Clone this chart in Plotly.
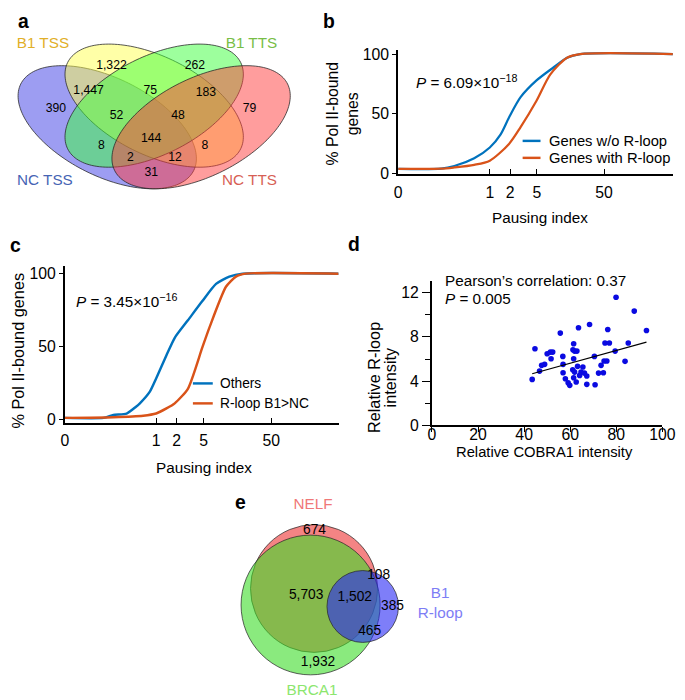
import numpy as np
import plotly.graph_objects as go

# Layout is designed in reference-picture pixels (685 x 700).  The captured page is
# slightly larger than the window, so page pixels are reference pixels times S.
S = 1 / 0.982
OFF = 8        # default body margin
YSHIFT = 4     # small vertical correction of the capture
W = int(685 * S) - OFF - 1
H = int(700 * S) - OFF - 1
FONT = "Liberation Sans, Arial, Helvetica, sans-serif"

# ---------------- data ----------------
# Panel a: four-set Venn (NC TSS, B1 TSS, B1 TTS, NC TTS)
venn4_names = ["NC TSS", "B1 TSS", "B1 TTS", "NC TTS"]
venn4_counts = ["390", "1,322", "262", "79", "1,447", "75", "183",
                "52", "48", "144", "8", "8", "2", "12", "31"]

# Panel b: cumulative % Pol II-bound genes vs pausing index
b_ticks = [0.0434, 1, 2, 5, 50]
b_ticktext = ["0", "1", "2", "5", "50"]
b_wo_x = [0.0434, 0.189, 0.297, 0.586, 1.0, 1.45, 1.93, 2.87, 4.95, 8.93, 14.1, 22.1, 528]
b_wo_y = [4.2, 4.4, 6.5, 13, 22, 33, 47, 64, 78, 89, 97, 100, 100]
b_with_x = [0.0434, 0.189, 0.297, 0.586, 1.0, 1.93, 2.87, 4.95, 7.96, 14.1, 22.1, 528]
b_with_y = [4.2, 4.3, 5.3, 7.5, 11, 25, 39, 61, 83, 97, 100, 100]

# Panel c
c_ticks = [0.045, 1, 2, 5, 50]
c_ticktext = ["0", "1", "2", "5", "50"]
c_oth_x = [0.045, 0.168, 0.234, 0.367, 0.5, 0.576, 0.808, 1.0, 1.42, 1.88, 2.94, 4.77, 7.64, 12.0, 18.8, 490]
c_oth_y = [1, 1, 3, 4, 8.5, 11, 19, 28, 44, 56, 68, 81, 93, 98, 100, 100]
c_rl_x = [0.045, 0.234, 0.645, 1.0, 1.42, 1.88, 2.94, 4.77, 6.1, 10.7, 15, 21, 490]
c_rl_y = [1, 1.5, 2.5, 4, 7.5, 11, 21, 49, 63, 91, 98, 100, 100]

# Panel d: Relative COBRA1 intensity vs relative R-loop intensity
d_x = [43.5, 44.7, 46.7, 47.6, 48.9, 50.0, 51.4, 52.4, 51.7, 55.7, 56.8, 56.9, 56.9,
       57.9, 59.1, 59.8, 61.5, 61.2, 61.9, 62.9, 61.5, 61.1, 61.9, 61.5, 62.6, 63.2,
       63.6, 64.1, 64.7, 65.5, 66.2, 67.2, 67.2, 68.4, 70.5, 70.8, 72.3, 73.4, 74.4,
       74.7, 75.1, 75.9, 76.3, 77.0, 79.9, 79.5, 83.8, 85.2, 87.8, 93.1]
d_y = [4.16, 6.93, 4.91, 5.43, 5.52, 6.48, 6.63, 6.63, 6.03, 8.35, 6.24, 5.52, 4.76,
       4.22, 3.86, 3.62, 7.39, 6.84, 6.72, 6.72, 6.03, 5.03, 4.82, 4.31, 3.92, 5.34,
       8.83, 4.52, 4.82, 5.28, 4.73, 4.46, 3.71, 9.13, 6.24, 3.68, 4.73, 5.43, 4.76,
       5.82, 7.45, 5.82, 8.68, 7.45, 11.6, 6.72, 5.79, 7.45, 10.34, 8.59]
d_fit_x = [43.5, 93.1]
d_fit_y = [4.67, 7.53]

# Panel e: three-set Venn
venn3_names = ["NELF", "BRCA1", "B1<br>R-loop"]
venn3_counts = ["674", "5,703", "1,502", "108", "385", "465", "1,932"]

# ---------------- layout helpers (reference px -> paper) ----------------
def px2x(px):
    return (px * S - OFF) / W

def py2y(py):
    return 1 - ((py - YSHIFT) * S - OFF) / H

def xdom(p0, p1):
    return [max(0.0, px2x(p0)), min(1.0, px2x(p1))]

def ydom(top, bottom):
    return [max(0.0, py2y(bottom)), min(1.0, py2y(top))]

def fs(v):
    return v * S

def ellipse_path(cx, cy, a, b, ang, n=160):
    t = np.linspace(0, 2 * np.pi, n, endpoint=False)
    th = np.deg2rad(ang)
    x = cx + a * np.cos(t) * np.cos(th) - b * np.sin(t) * np.sin(th)
    y = cy + a * np.cos(t) * np.sin(th) + b * np.sin(t) * np.cos(th)
    return "M " + " L ".join(f"{xi:.4f},{yi:.4f}" for xi, yi in zip(x, y)) + " Z"

BLUE = "rgb(0,114,189)"
ORANGE = "rgb(217,83,25)"

fig = go.Figure()

# ---- panel b traces
fig.add_trace(go.Scatter(x=b_wo_x, y=b_wo_y, mode="lines", name="Genes w/o R-loop",
                         line=dict(color=BLUE, width=fs(2.2), shape="spline", smoothing=0.8),
                         xaxis="x", yaxis="y", showlegend=False))
fig.add_trace(go.Scatter(x=b_with_x, y=b_with_y, mode="lines", name="Genes with R-loop",
                         line=dict(color=ORANGE, width=fs(2.2), shape="spline", smoothing=0.8),
                         xaxis="x", yaxis="y", showlegend=False))
# ---- panel c traces
fig.add_trace(go.Scatter(x=c_oth_x, y=c_oth_y, mode="lines", name="Others",
                         line=dict(color=BLUE, width=fs(2.4), shape="spline", smoothing=0.6),
                         xaxis="x2", yaxis="y2", showlegend=False))
fig.add_trace(go.Scatter(x=c_rl_x, y=c_rl_y, mode="lines", name="R-loop B1>NC",
                         line=dict(color=ORANGE, width=fs(2.4), shape="spline", smoothing=0.6),
                         xaxis="x2", yaxis="y2", showlegend=False))
# ---- panel d traces
fig.add_trace(go.Scatter(x=d_x, y=d_y, mode="markers",
                         marker=dict(color="rgb(10,10,225)", size=fs(5.5)),
                         xaxis="x3", yaxis="y3", showlegend=False))
fig.add_trace(go.Scatter(x=d_fit_x, y=d_fit_y, mode="lines",
                         line=dict(color="black", width=fs(1.1)),
                         xaxis="x3", yaxis="y3", showlegend=False))

# ---- panel a: ellipses
venn4_geom = [(0.35, 0.47, -45), (0.5, 0.57, -45), (0.5, 0.57, 45), (0.65, 0.47, 45)]
venn4_fill = ["rgba(60,60,230,0.5)", "rgba(255,255,80,0.5)",
              "rgba(60,255,60,0.5)", "rgba(255,60,60,0.5)"]
shapes = []
for (cx, cy, ang), col in zip(venn4_geom, venn4_fill):
    shapes.append(dict(type="path", path=ellipse_path(cx, cy, 0.35, 0.2, ang),
                       xref="x4", yref="y4", fillcolor=col,
                       line=dict(color="rgba(40,40,40,0.85)", width=fs(0.9)), layer="below"))
venn4_lab_pos = [(0.1857, 0.5546), (0.3635, 0.7533), (0.6302, 0.7533), (0.8048, 0.5546),
                 (0.2905, 0.6378), (0.4873, 0.6378), (0.6651, 0.6286),
                 (0.3794, 0.5223), (0.5762, 0.5223), (0.4905, 0.416),
                 (0.3317, 0.3837), (0.6619, 0.3837), (0.4238, 0.3282), (0.5667, 0.3282),
                 (0.4905, 0.2589)]
fig.add_trace(go.Scatter(x=[p[0] for p in venn4_lab_pos], y=[p[1] for p in venn4_lab_pos],
                         text=venn4_counts, mode="text", textposition="middle center",
                         textfont=dict(family=FONT, size=fs(12), color="black"), cliponaxis=False,
                         xaxis="x4", yaxis="y4", showlegend=False, hoverinfo="skip"))
venn4_name_pos = [(0.1508, 0.222), (0.1444, 0.855), (0.811, 0.855), (0.8048, 0.222)]
venn4_name_col = ["rgb(70,100,180)", "rgb(225,175,40)", "rgb(120,190,70)", "rgb(215,95,85)"]
fig.add_trace(go.Scatter(x=[p[0] for p in venn4_name_pos], y=[p[1] for p in venn4_name_pos],
                         text=venn4_names, mode="text", textposition="middle center",
                         textfont=dict(family=FONT, size=fs(15), color=venn4_name_col),
                         cliponaxis=False,
                         xaxis="x4", yaxis="y4", showlegend=False, hoverinfo="skip"))

# ---- panel e: circles (centre x, centre y, radius) in panel units
venn3_geom = [(82, 111.5, 64), (78.5, 95, 70), (131, 93.5, 36)]
venn3_fill = ["rgba(240,80,80,0.7)", "rgba(60,220,40,0.6)", "rgba(40,40,245,0.6)"]
for (cx, cy, r), col in zip(venn3_geom, venn3_fill):
    shapes.append(dict(type="circle", x0=cx - r, x1=cx + r, y0=cy - r, y1=cy + r,
                       xref="x5", yref="y5", fillcolor=col,
                       line=dict(color="rgba(40,40,40,0.8)", width=fs(0.9)), layer="below"))
venn3_lab_pos = [(82.5, 170), (74, 104), (123, 102), (147, 124), (161, 93), (138, 68), (86, 37)]
fig.add_trace(go.Scatter(x=[p[0] for p in venn3_lab_pos], y=[p[1] for p in venn3_lab_pos],
                         text=venn3_counts, mode="text", textposition="middle center",
                         textfont=dict(family=FONT, size=fs(13.5), color="black"), cliponaxis=False,
                         xaxis="x5", yaxis="y5", showlegend=False, hoverinfo="skip"))
venn3_name_pos = [(81, 195), (80, 9), (209, 96)]
venn3_name_col = ["rgb(240,120,120)", "rgb(140,230,110)", "rgb(125,125,245)"]
fig.add_trace(go.Scatter(x=[p[0] for p in venn3_name_pos], y=[p[1] for p in venn3_name_pos],
                         text=venn3_names, mode="text", textposition="middle center",
                         textfont=dict(family=FONT, size=fs(15), color=venn3_name_col),
                         cliponaxis=False,
                         xaxis="x5", yaxis="y5", showlegend=False, hoverinfo="skip"))

# ---- legends drawn as line samples + text
def leg_line(x0, x1, y, col):
    shapes.append(dict(type="line", xref="paper", yref="paper",
                       x0=px2x(x0), x1=px2x(x1), y0=py2y(y), y1=py2y(y),
                       line=dict(color=col, width=fs(2.4))))

leg_line(522, 540, 140, BLUE)
leg_line(522, 540, 157, ORANGE)
leg_line(190, 210, 383, BLUE)
leg_line(190, 210, 403, ORANGE)

ann = []
def text(px, py, s, size=15, xa="left", angle=0, color="black"):
    ann.append(dict(x=px2x(px), y=py2y(py), xref="paper", yref="paper", text=s,
                    showarrow=False, xanchor=xa, yanchor="middle", textangle=angle,
                    font=dict(family=FONT, size=fs(size), color=color)))

text(547, 140, "Genes w/o R-loop", 14.5)
text(547, 157, "Genes with R-loop", 14.5)
text(215, 383, "Others", 13.5)
text(215, 403, "R-loop B1>NC", 13.5)

text(413, 80, "<i>P</i> = 6.09×10<sup>−18</sup>", 15)
text(70, 300, "<i>P</i> = 3.45×10<sup>−16</sup>", 15)
text(442, 280, "Pearson’s correlation: 0.37", 15)
text(442, 298, "<i>P</i> = 0.005", 15)

text(539, 217, "Pausing index", 15, xa="center")
text(201, 467, "Pausing index", 15, xa="center")
text(544.5, 452, "Relative COBRA1 intensity", 14.5, xa="center")
text(331.5, 113, "% Pol II-bound", 15.5, xa="center", angle=-90)
text(351.5, 113, "genes", 15.5, xa="center", angle=-90)
text(14, 350, "% Pol II-bound genes", 16, xa="center", angle=-90)
text(373, 377, "Relative R-loop", 16, xa="center", angle=-90)
text(388.5, 377, "intensity", 16, xa="center", angle=-90)

for lab, px, py in [("a", 19, 20), ("b", 327, 20), ("c", 11, 244), ("d", 352, 243), ("e", 238, 502)]:
    text(px, py, f"<b>{lab}</b>", 19, xa="center")

tickfont = dict(family=FONT, size=fs(15.5), color="black")
axline = dict(showline=True, linecolor="black", linewidth=fs(1.6), showgrid=False,
              zeroline=False, tickcolor="black", tickfont=tickfont, tickwidth=fs(1.3))

fig.update_layout(
    width=W, height=H, autosize=False,
    margin=dict(l=0, r=0, t=0, b=0),
    paper_bgcolor="white", plot_bgcolor="rgba(0,0,0,0)",
    showlegend=False,
    shapes=shapes, annotations=ann,
    # panel b
    xaxis=dict(domain=xdom(396.7, 673.3), anchor="y", type="log",
               range=[np.log10(b_ticks[0]), 2.723], tickmode="array",
               tickvals=b_ticks, ticktext=b_ticktext, ticks="inside", ticklen=fs(5),
               ticklabelstandoff=3, **axline),
    yaxis=dict(domain=ydom(49.4, 173), anchor="x", range=[0, 103],
               tickvals=[0, 50, 100], ticks="outside", ticklen=fs(4), **axline),
    # panel c
    xaxis2=dict(domain=xdom(61, 336.7), anchor="y2", type="log",
                range=[np.log10(c_ticks[0]), 2.69], tickmode="array",
                tickvals=c_ticks, ticktext=c_ticktext, ticks="inside", ticklen=fs(5),
                ticklabelstandoff=2, **axline),
    yaxis2=dict(domain=ydom(265, 423), anchor="x2", range=[-2.74, 105.5],
                tickvals=[0, 50, 100], ticks="outside", ticklen=fs(4), **axline),
    # panel d
    xaxis3=dict(domain=xdom(430.7, 662.7), anchor="y3", range=[0, 100],
                tickvals=[0, 20, 40, 60, 80, 100], ticks="outside", ticklen=fs(5),
                ticklabelstandoff=-11, **axline),
    yaxis3=dict(domain=ydom(280, 425), anchor="x3", range=[0, 13.1],
                tickvals=[0, 4, 8, 12], ticks="outside", ticklen=fs(8),
                minor=dict(tickvals=[2, 6, 10], ticks="outside", ticklen=fs(5),
                           tickcolor="black", tickwidth=fs(1.2)), **axline),
    # panel a (venn, hidden axes): reference px 8..300 wide, 40..195 tall
    xaxis4=dict(domain=xdom(8, 300), anchor="y4",
                range=[0.5 + (8 - 151) / 315, 0.973], visible=False),
    yaxis4=dict(domain=ydom(40, 195), anchor="x4", range=[0.1526, 0.8689], visible=False),
    # panel e (venn, hidden axes): reference px 230..470 wide, 480..692 tall
    xaxis5=dict(domain=xdom(230, 470), anchor="y5", range=[0, 240], visible=False),
    yaxis5=dict(domain=ydom(480, 692), anchor="x5", range=[8, 220], visible=False),
)

fig.write_html("out.html", config={"displayModeBar": False})
